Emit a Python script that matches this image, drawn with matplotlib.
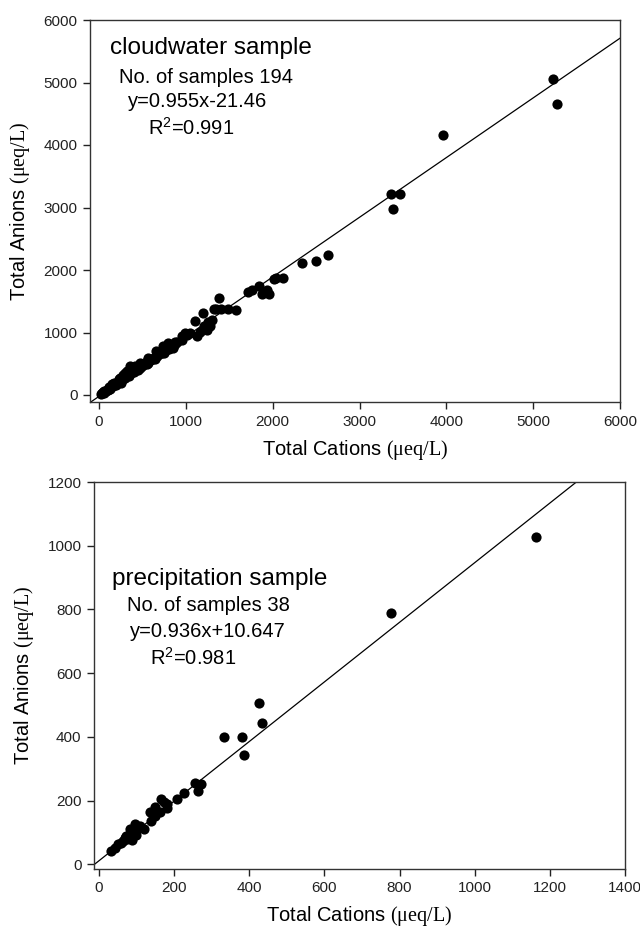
import numpy as np
import matplotlib
matplotlib.use("Agg")
import matplotlib.pyplot as plt

plt.rcParams['font.family'] = ['Liberation Sans', 'DejaVu Sans']
plt.rcParams['mathtext.fontset'] = 'custom'
plt.rcParams['mathtext.rm'] = 'Liberation Serif'
plt.rcParams['mathtext.sf'] = 'Liberation Sans'

# cloudwater samples (cations, anions) in ueq/L
cloud_cat = [20, 35, 50, 60, 75, 90, 100, 110, 125, 140, 150, 165, 180, 190, 205,
             220, 235, 250, 260, 275, 290, 300, 315, 330, 345, 355, 370, 385, 400, 410,
             425, 440, 455, 470, 485, 500, 515, 530, 545, 560, 575, 590, 605, 620, 640,
             655, 670, 690, 705, 720, 740, 755, 770, 790, 805, 820, 840, 860, 880, 900,
             320, 360, 420, 470, 560, 660, 740, 800, 850, 880, 150, 230, 280, 130, 200,
             250, 350, 450, 550, 650, 750, 850, 950, 60, 110, 170, 240, 300,
             960, 990, 1010, 1050, 1100, 1130, 1160, 1200, 1210, 1240, 1260, 1280, 1300,
             1320, 1350, 1380, 1400, 1480, 1580, 1720, 1760, 1840, 1880, 1940, 1960,
             2020, 2040, 2120, 2340, 2500, 2640, 3360, 3390, 3470, 3960, 5230, 5270]
cloud_an = [15, 30, 45, 40, 60, 80, 85, 110, 115, 125, 140, 150, 170, 190, 185,
            210, 220, 240, 260, 255, 290, 270, 310, 340, 330, 360, 350, 380, 370, 420,
            400, 420, 450, 440, 470, 460, 490, 500, 530, 520, 550, 560, 580, 570, 610,
            630, 620, 660, 680, 670, 720, 700, 740, 760, 740, 790, 800, 820, 810, 850,
            380, 470, 470, 520, 590, 700, 790, 830, 770, 850, 180, 260, 320, 90, 160,
            200, 300, 400, 490, 580, 680, 760, 880, 70, 130, 200, 280, 350,
            950, 990, 960, 1000, 1190, 950, 1010, 1310, 1100, 1040, 1170, 1100, 1200,
            1370, 1370, 1560, 1380, 1370, 1360, 1650, 1680, 1750, 1620, 1680, 1620,
            1850, 1870, 1870, 2110, 2140, 2240, 3210, 2970, 3210, 4160, 5050, 4660]

# precipitation samples
prec_cat = [32, 42, 51, 60, 69, 73, 82, 82, 88, 91, 95, 100, 105, 109, 135, 140,
            149, 162, 166, 172, 181, 208, 226, 257, 263, 272, 334, 381, 385, 427,
            433, 777, 1164, 120, 75, 150, 180, 65]
prec_an = [42, 52, 62, 68, 82, 90, 87, 110, 75, 103, 125, 92, 115, 120, 165, 135,
           180, 165, 205, 195, 175, 205, 225, 255, 230, 252, 400, 398, 342, 506,
           443, 789, 1026, 110, 80, 150, 190, 72]

cloud_fit = (0.955, -21.46)
prec_fit = (0.936, 10.647)

W, H = 640, 931
fig = plt.figure(figsize=(W / 100, H / 100), dpi=100)


def frac(x, y):
    return x / W, 1 - y / H


def setup(ax, xlim, ylim, xticks, yticks):
    ax.set_xlim(*xlim)
    ax.set_ylim(*ylim)
    ax.set_xticks(xticks)
    ax.set_yticks(yticks)
    ax.tick_params(direction='out', length=5, width=1, labelsize=11, pad=4,
                   colors='#222222')
    for s in ax.spines.values():
        s.set_color('#333333')
        s.set_linewidth(1)


ax1 = fig.add_axes([90 / W, 1 - 402 / H, 530 / W, 382 / H])
setup(ax1, (-104, 6000), (-112, 6000), np.arange(0, 6001, 1000), np.arange(0, 6001, 1000))
xx = np.array(ax1.get_xlim())
ax1.plot(xx, cloud_fit[0] * xx + cloud_fit[1], color='k', lw=0.9)
ax1.scatter(cloud_cat, cloud_an, s=54, color='k', zorder=3, linewidths=0)
ax1.set_xlabel(r'Total Cations $\mathrm{(μeq/L)}$', fontsize=14.5, labelpad=7)
ax1.set_ylabel(r'Total Anions $\mathrm{(μeq/L)}$', fontsize=14.5, labelpad=8)

fig.text(*frac(110, 54), 'cloudwater sample', fontsize=17.5, va='baseline')
fig.text(*frac(119, 83), 'No. of samples 194', fontsize=14.5, va='baseline')
fig.text(*frac(128, 107), 'y=0.955x-21.46', fontsize=14.5, va='baseline')
fig.text(*frac(148, 135), r'R$^\mathsf{2}$=0.991', fontsize=14.5, va='baseline')

ax2 = fig.add_axes([94 / W, 1 - 869 / H, 531 / W, 387 / H])
setup(ax2, (-13, 1400), (-15, 1200), np.arange(0, 1401, 200), np.arange(0, 1201, 200))
xx = np.array(ax2.get_xlim())
ax2.plot(xx, prec_fit[0] * xx + prec_fit[1], color='k', lw=0.9)
ax2.scatter(prec_cat, prec_an, s=54, color='k', zorder=3, linewidths=0)
ax2.set_xlabel(r'Total Cations $\mathrm{(μeq/L)}$', fontsize=14.5, labelpad=6)
ax2.set_ylabel(r'Total Anions $\mathrm{(μeq/L)}$', fontsize=14.5, labelpad=8)

fig.text(*frac(112, 585), 'precipitation sample', fontsize=17.5, va='baseline')
fig.text(*frac(127, 611), 'No. of samples 38', fontsize=14.5, va='baseline')
fig.text(*frac(130, 637), 'y=0.936x+10.647', fontsize=14.5, va='baseline')
fig.text(*frac(150, 665), r'R$^\mathsf{2}$=0.981', fontsize=14.5, va='baseline')

fig.savefig('out.png', dpi=100)
